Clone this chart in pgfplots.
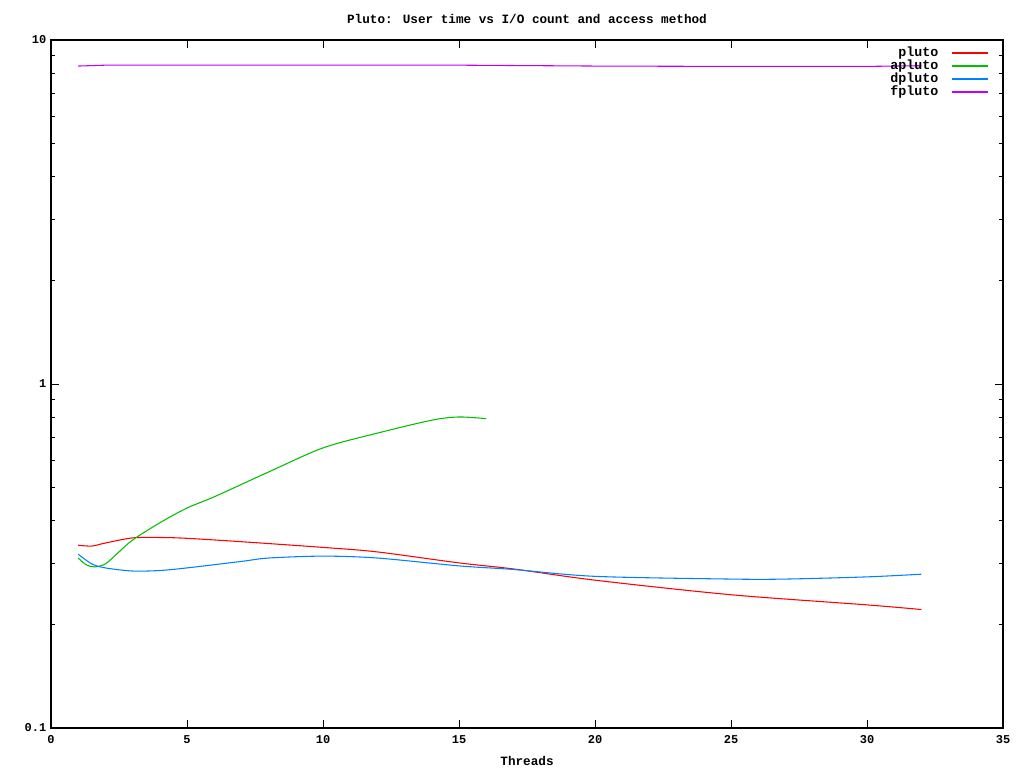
\documentclass[border=0pt]{standalone}
\usepackage{fontspec}
\setmainfont{Liberation Mono}
\usepackage{pgfplots}
\pgfplotsset{compat=1.18}
\definecolor{gpred}{RGB}{255,0,0}
\definecolor{gpgreen}{RGB}{0,192,0}
\definecolor{gpblue}{RGB}{0,128,255}
\definecolor{gpmag}{RGB}{192,0,255}
\begin{document}
\begin{tikzpicture}
\useasboundingbox (0pt,0pt) rectangle (768pt,576pt);
\begin{axis}[
  at={(38.25pt,30pt)}, anchor=south west,
  scale only axis, width=714pt, height=516pt,
  xmin=0, xmax=35, ymode=log, ymin=0.1, ymax=10,
  xtick={0,5,...,35},
  ytick={0.1,1,10}, yticklabels={0.1,1,10},
  minor ytick={0.2,0.3,0.4,0.5,0.6,0.7,0.8,0.9,2,3,4,5,6,7,8,9},
  tick align=inside,
  major tick length=6pt, minor tick length=3pt,
  every tick/.style={black, line width=0.6pt},
  axis line style={line width=0.9pt},
  tick label style={font=\fontsize{9}{10}\selectfont\bfseries},
  xticklabel style={yshift=-2pt},
  /pgf/number format/assume math mode=true,
  title={Pluto: User time vs I/O count and access method},
  title style={font=\fontsize{9.5}{11}\selectfont\bfseries, yshift=3pt},
  xlabel={Threads},
  xlabel style={font=\fontsize{9.5}{11}\selectfont\bfseries, yshift=-3pt},
  legend plot pos=right,
  legend cell align=right,
  legend style={draw=none, fill=none, at={(rel axis cs:0.99,0.995)}, anchor=north east,
    font=\fontsize{10}{10}\selectfont\bfseries, row sep=0pt,
    nodes={text height=7pt, text depth=2pt, inner ysep=0.375pt},
    /tikz/column sep=8pt},
  legend image code/.code={\draw[#1, line width=1.2pt] (0pt,0pt) -- (27pt,0pt);},
  every axis plot/.append style={line width=0.8pt},
]
\addplot[color=gpred, smooth, tension=0.5] coordinates {
(1,0.340)(1.5,0.338)(2,0.345)(3,0.357)(4,0.358)(5,0.356)(7,0.348)(10,0.335)(12,0.325)(15,0.302)(17,0.290)(20,0.269)(25,0.244)(30,0.228)(32,0.221)};
\addlegendentry{pluto}
\addplot[color=gpgreen, smooth, tension=0.5] coordinates {
(1,0.312)(1.3,0.298)(1.6,0.294)(2,0.300)(2.5,0.325)(3,0.352)(4,0.395)(5,0.436)(6,0.47)(8,0.555)(10,0.652)(12,0.72)(14,0.785)(15,0.802)(16,0.793)};
\addlegendentry{apluto}
\addplot[color=gpblue, smooth, tension=0.5] coordinates {
(1,0.320)(1.5,0.300)(2,0.292)(3,0.286)(4,0.287)(5,0.292)(7,0.305)(8,0.312)(10,0.316)(12,0.312)(15,0.296)(17,0.289)(20,0.276)(25,0.271)(27,0.271)(30,0.275)(32,0.280)};
\addlegendentry{dpluto}
\addplot[color=gpmag] coordinates {
(1,8.40)(2,8.45)(10,8.45)(15,8.45)(20,8.40)(25,8.38)(30,8.38)(32,8.42)};
\addlegendentry{fpluto}
\end{axis}
\end{tikzpicture}
\end{document}
